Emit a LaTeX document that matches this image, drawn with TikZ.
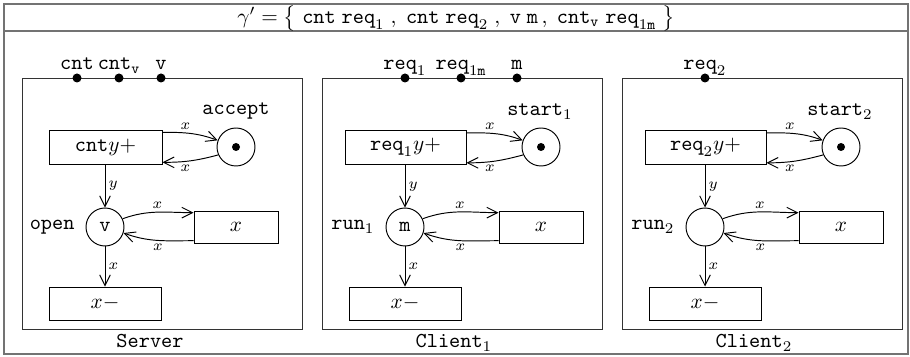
\documentclass[tikz,border=0pt]{standalone}
\usetikzlibrary{arrows.meta}
\newlength\pxu
\setlength\pxu{0.47pt}
\begin{document}
\begin{tikzpicture}[x=\pxu,y=-\pxu,
  frame/.style={draw=black!55, line width=0.7pt},
  comp/.style={draw=black!80, line width=0.45pt, inner sep=0pt, minimum width=280\pxu, minimum height=251\pxu},
  trans/.style={draw, line width=0.45pt, inner sep=0pt, minimum height=33\pxu},
  place/.style={draw, circle, line width=0.45pt, minimum size=38\pxu, inner sep=0pt},
  port/.style={circle, fill, minimum size=9\pxu, inner sep=0pt},
  tok/.style={circle, fill, minimum size=8\pxu, inner sep=0pt},
  arc/.style={-{Straight Barb[length=5pt,width=5pt]}, line width=0.45pt},
  lbl/.style={font=\scriptsize, inner sep=1.5pt},
  plab/.style={anchor=base},
]
\useasboundingbox (0,0) rectangle (910,357);
\draw[frame] (4,4) rectangle (908,354);
\draw[frame] (4,31) -- (908,31);
\node (gamma) at (456,18) {$\gamma' = \big\{\;\mathtt{cnt}\;\mathtt{req}_1\;,\;\mathtt{cnt}\;\mathtt{req}_2\;,\;\mathtt{v}\;\mathtt{m}\,,\;\mathtt{cnt}_{\mathtt{v}}\;\mathtt{req}_{1\mathtt{m}}\;\big\}$};

% ---------------- Server ----------------
\node[comp] (srv) at (162,203.5) {};
\node[port] (pcnt) at (77,78) {};
\node[port] (pcntv) at (119,78) {};
\node[port] (pv) at (161,78) {};
\node[plab] (lcnt) at (77,70) {\texttt{cnt}};
\node[plab] (lcntv) at (119,70) {$\mathtt{cnt}_{\mathtt{v}}$};
\node[plab] (lv) at (161,70) {\texttt{v}};
\node[trans, minimum width=113\pxu, minimum height=34\pxu] (srvT) at (105.5,147) {$\mathtt{cnt}y+$};
\node[place] (srvP) at (236,147) {};
\node[tok] (srvTok) at (srvP) {};
\node[plab] (srvPl) at (236,115) {\texttt{accept}};
\node[place] (srvO) at (105,227) {\texttt{v}};
\node[anchor=base east] (srvOl) at (82,230) {\texttt{open}};
\node[trans, minimum width=84\pxu, minimum height=32\pxu] (srvX) at (236,227) {$x$};
\node[trans, minimum width=112\pxu] (srvM) at (105,303.5) {$x-$};
\node[plab] (srvL) at (150,348) {\texttt{Server}};
\draw[arc] ([yshift=-1.3pt]srvT.north east) to[out=0,in=160] node[lbl,above,pos=0.4]{$x$} (srvP.160);
\draw[arc] (srvP.204) to[out=195,in=0] node[lbl,below,pos=0.6]{$x$} ([yshift=1pt]srvT.south east);
\draw[arc] (srvT.south -| srvO) -- node[lbl,right]{$y$} (srvO.north);
\draw[arc] (srvO.25) to[out=20,in=180] node[lbl,above]{$x$} ([yshift=-1pt]srvX.north west);
\draw[arc] ([yshift=1.3pt]srvX.south west) to[out=180,in=-20] node[lbl,below]{$x$} (srvO.-18);
\draw[arc] (srvO.south) -- node[lbl,right]{$x$} (srvM.north);

% ---------------- Client 1 ----------------
\node[comp] (cla) at (462,203.5) {};
\node[port] (preqa) at (405,78) {};
\node[port] (preqam) at (461,78) {};
\node[port] (pm) at (517,78) {};
\node[plab] (lreqa) at (405,70) {$\mathtt{req}_1$};
\node[plab] (lreqam) at (461,70) {$\mathtt{req}_{1\mathtt{m}}$};
\node[plab] (lm) at (517,70) {\texttt{m}};
\node[trans, minimum width=121\pxu, minimum height=34\pxu] (claT) at (405.5,147.5) {$\mathtt{req}_1y+$};
\node[place] (claP) at (541,147) {};
\node[tok] (claTok) at (claP) {};
\node[plab] (claPl) at (540,116) {$\mathtt{start}_1$};
\node[place] (claO) at (405,227) {\texttt{m}};
\node[anchor=base east] (claOl) at (382,230) {$\mathtt{run}_1$};
\node[trans, minimum width=84\pxu, minimum height=32\pxu] (claX) at (541,227) {$x$};
\node[trans, minimum width=112\pxu] (claM) at (405,303.5) {$x-$};
\node[plab] (claL) at (454,348) {$\mathtt{Client}_1$};
\draw[arc] ([yshift=-1.3pt]claT.north east) to[out=0,in=160] node[lbl,above,pos=0.4]{$x$} (claP.160);
\draw[arc] (claP.204) to[out=195,in=0] node[lbl,below,pos=0.6]{$x$} ([yshift=1pt]claT.south east);
\draw[arc] (claT.south -| claO) -- node[lbl,right]{$y$} (claO.north);
\draw[arc] (claO.25) to[out=20,in=180] node[lbl,above]{$x$} ([yshift=-1pt]claX.north west);
\draw[arc] ([yshift=1.3pt]claX.south west) to[out=180,in=-20] node[lbl,below]{$x$} (claO.-18);
\draw[arc] (claO.south) -- node[lbl,right]{$x$} (claM.north);

% ---------------- Client 2 ----------------
\node[comp] (clb) at (762,203.5) {};
\node[port] (preqb) at (705,78) {};
\node[plab] (lreqb) at (705,70) {$\mathtt{req}_2$};
\node[trans, minimum width=121\pxu, minimum height=34\pxu] (clbT) at (705.5,147.5) {$\mathtt{req}_2y+$};
\node[place] (clbP) at (841,147) {};
\node[tok] (clbTok) at (clbP) {};
\node[plab] (clbPl) at (840,116) {$\mathtt{start}_2$};
\node[place] (clbO) at (705,227) {};
\node[anchor=base east] (clbOl) at (682,230) {$\mathtt{run}_2$};
\node[trans, minimum width=84\pxu, minimum height=32\pxu] (clbX) at (841,227) {$x$};
\node[trans, minimum width=112\pxu] (clbM) at (705,303.5) {$x-$};
\node[plab] (clbL) at (754,348) {$\mathtt{Client}_2$};
\draw[arc] ([yshift=-1.3pt]clbT.north east) to[out=0,in=160] node[lbl,above,pos=0.4]{$x$} (clbP.160);
\draw[arc] (clbP.204) to[out=195,in=0] node[lbl,below,pos=0.6]{$x$} ([yshift=1pt]clbT.south east);
\draw[arc] (clbT.south -| clbO) -- node[lbl,right]{$y$} (clbO.north);
\draw[arc] (clbO.25) to[out=20,in=180] node[lbl,above]{$x$} ([yshift=-1pt]clbX.north west);
\draw[arc] ([yshift=1.3pt]clbX.south west) to[out=180,in=-20] node[lbl,below]{$x$} (clbO.-18);
\draw[arc] (clbO.south) -- node[lbl,right]{$x$} (clbM.north);
\end{tikzpicture}
\end{document}
